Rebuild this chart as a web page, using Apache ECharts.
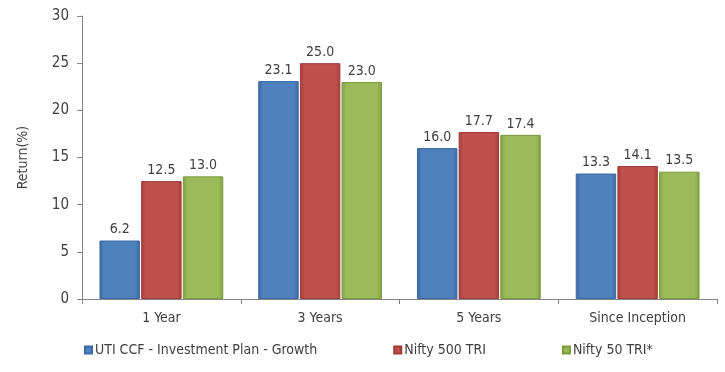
<!DOCTYPE html>
<html><head><meta charset="utf-8">
<script src="https://cdn.jsdelivr.net/npm/echarts@6/dist/echarts.min.js"></script>
<style>html,body{margin:0;padding:0;background:#fff}#c{width:725px;height:372px}</style>
</head><body><div id="c"></div>
<script>
const categories = ['1 Year', '3 Years', '5 Years', 'Since Inception'];
const seriesNames = ['UTI CCF - Investment Plan - Growth', 'Nifty 500 TRI', 'Nifty 50 TRI*'];
const fundValues = [6.2, 23.1, 16.0, 13.3];
const nifty500Values = [12.5, 25.0, 17.7, 14.1];
const nifty50Values = [13.0, 23.0, 17.4, 13.5];
const yTicks = [0, 30, 5];

const FONT = '"Liberation Sans Narrow", "DejaVu Sans Condensed", sans-serif';
const TXT = '#404040';
function grad(base, dark) {
  return new echarts.graphic.LinearGradient(0, 0, 1, 0, [
    {offset: 0, color: dark},
    {offset: 0.12, color: base},
    {offset: 0.88, color: base},
    {offset: 1, color: dark}
  ]);
}
const styles = [
  grad('#4F81BD', '#3a6aa6'),
  grad('#C0504D', '#a53e3b'),
  grad('#9BBB59', '#80a042')
];
const borders = ['#3b6aa3', '#9e3c3a', '#7b9a40'];
const data = [fundValues, nifty500Values, nifty50Values];

const chart = echarts.init(document.getElementById('c'));
chart.setOption({
  animation: false,
  textStyle: {fontFamily: FONT},
  grid: {left: 82, right: 8, top: 16, bottom: 73},
  legend: {
    bottom: 10, left: 79, itemWidth: 7, itemHeight: 7, itemGap: 76,
    icon: 'rect',
    textStyle: {fontFamily: FONT, fontSize: 14, color: TXT, padding: [0, 0, 0, -2]},
    data: seriesNames
  },
  xAxis: {
    type: 'category', data: categories,
    axisLine: {lineStyle: {color: '#868686'}},
    axisTick: {show: true, length: 5, lineStyle: {color: '#868686'}},
    axisLabel: {fontFamily: FONT, fontSize: 14, color: TXT, margin: 12}
  },
  yAxis: {
    type: 'value', min: yTicks[0], max: yTicks[1], interval: yTicks[2],
    name: 'Return(%)', nameLocation: 'middle', nameGap: 52,
    nameTextStyle: {fontFamily: FONT, fontSize: 14, color: TXT},
    axisLine: {show: true, lineStyle: {color: '#868686'}},
    axisTick: {show: true, length: 5, lineStyle: {color: '#868686'}},
    splitLine: {show: false},
    axisLabel: {fontFamily: FONT, fontSize: 15, color: TXT, margin: 13}
  },
  series: seriesNames.map((n, i) => ({
    name: n, type: 'bar', data: data[i],
    barGap: '3%', barCategoryGap: '22%',
    itemStyle: {color: styles[i], borderColor: borders[i], borderWidth: 1},
    label: {show: true, position: 'top', distance: 4, fontFamily: FONT, fontSize: 14, color: TXT,
      formatter: p => p.value.toFixed(1)}
  }))
});
</script></body></html>
